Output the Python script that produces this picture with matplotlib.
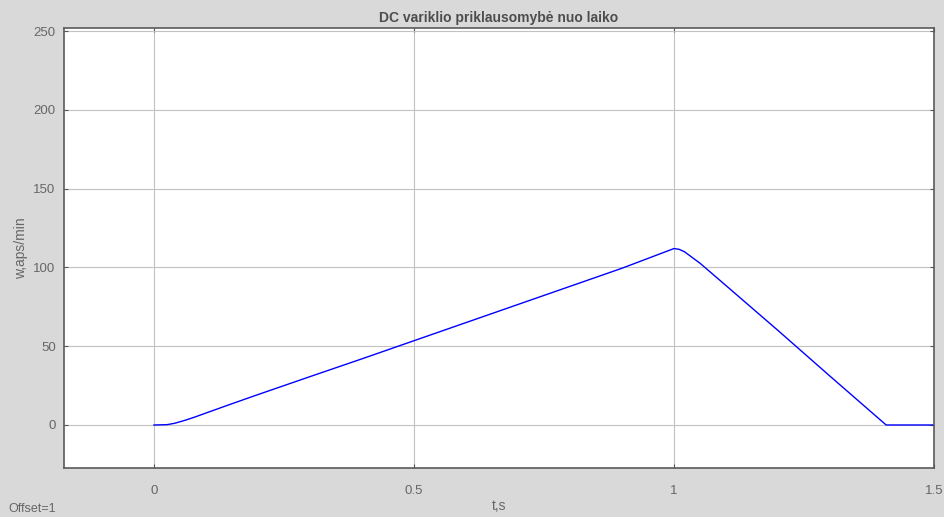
import matplotlib
matplotlib.use("Agg")
import matplotlib.pyplot as plt

# Data
t = [0.0, 0.025, 0.04, 0.06, 0.08, 0.1, 0.15, 0.2, 0.3, 0.4, 0.5, 0.6, 0.7, 0.8, 0.9,
     0.98, 1.0, 1.01, 1.02, 1.05, 1.1, 1.2, 1.3, 1.408, 1.45, 1.5]
w = [0.0, 0.2, 1.1, 3.0, 5.2, 7.6, 13.5, 19.3, 30.7, 42.0, 53.5, 65.0, 76.5, 88.0, 99.5,
     109.5, 112.0, 111.5, 110.0, 102.7, 88.5, 60.0, 31.0, 0.0, 0.0, 0.0]

xticks = [0, 0.5, 1, 1.5]
xticklabels = ["0", "0.5", "1", "1.5"]
yticks = [0, 50, 100, 150, 200, 250]

title = "DC variklio priklausomybė nuo laiko"
xlabel = "t,s"
ylabel = "w,aps/min"

plt.rcParams['font.family'] = ['Liberation Sans', 'DejaVu Sans']

bg = "#d9d9d9"
txt = "#666666"
fig = plt.figure(figsize=(9.44, 5.17), dpi=100, facecolor=bg)
ax = fig.add_axes([64/944, 1-468/517, (934-64)/944, (468-28)/517])
ax.set_facecolor("white")

ax.plot(t, w, color="#0000ff", lw=1.0)

ax.set_xlim(-0.173, 1.5)
ax.set_ylim(-27.3, 252)
ax.set_xticks(xticks)
ax.set_xticklabels(xticklabels)
ax.set_yticks(yticks)
ax.grid(True, color="#c2c2c2", lw=0.8)
ax.tick_params(direction="in", length=3, colors="#555555", labelcolor=txt,
               labelsize=9.5, top=True, right=True, pad=12)
ax.tick_params(axis="y", pad=6)
for s in ax.spines.values():
    s.set_color("#5a5a5a")
    s.set_linewidth(1.2)

ax.set_title(title, fontsize=10, fontweight="bold", color="#4d4d4d", pad=4)
ax.set_xlabel(xlabel, fontsize=10, color=txt, labelpad=2)
ax.set_ylabel(ylabel, fontsize=10, color=txt, labelpad=4)
fig.text(8/944, 1-509/517, "Offset=1", fontsize=9, color=txt, va="center", ha="left")

fig.savefig("out.png", dpi=100, facecolor=bg)
